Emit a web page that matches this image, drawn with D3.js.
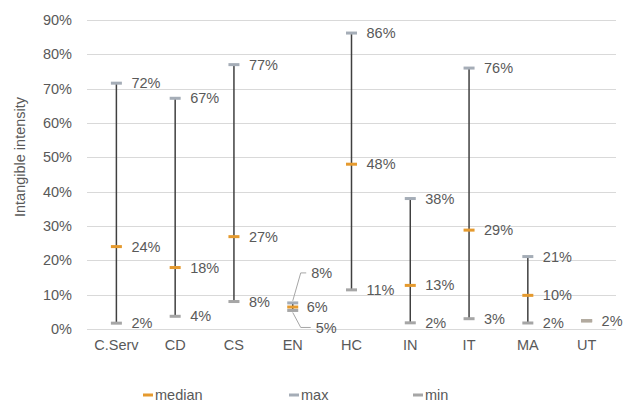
<!DOCTYPE html>
<html>
<head>
<meta charset="utf-8">
<script src="https://cdn.jsdelivr.net/npm/d3@7"></script>
<style>
  html, body { margin: 0; padding: 0; background: #fff; }
  svg { display: block; font-family: "Liberation Sans", Arial, sans-serif; }
</style>
</head>
<body>
<svg id="chart" width="624" height="403"></svg>
<script>
// ---- data ----
const categories = ["C.Serv", "CD", "CS", "EN", "HC", "IN", "IT", "MA", "UT"];
const maxValues    = [0.716, 0.672, 0.770, 0.076, 0.862, 0.380, 0.760, 0.211, 0.024];
const medianValues = [0.240, 0.179, 0.269, 0.064, 0.480, 0.127, 0.288, 0.098, 0.024];
const minValues    = [0.017, 0.037, 0.080, 0.054, 0.114, 0.018, 0.030, 0.0175, 0.024];
const yTicks = [0, 0.1, 0.2, 0.3, 0.4, 0.5, 0.6, 0.7, 0.8, 0.9];
const seriesNames = ["median", "max", "min"];
const yTitle = "Intangible intensity";

// ---- layout ----
const W = 624, H = 403;
const plot = { left: 87, right: 616, top: 20, bottom: 329 };
const colors = { median: "#E59A2E", max: "#A5ADB7", min: "#A6A6A6", ut: "#B2AA9F" };
const textColor = "#595959";
const fontSize = 14.5;

const svg = d3.select("#chart");
const x = d3.scaleBand().domain(categories).range([plot.left, plot.right]).padding(0);
const y = d3.scaleLinear().domain([0, 0.9]).range([plot.bottom, plot.top]);
const fmt = d3.format(".0%");

// gridlines
svg.append("g")
  .selectAll("line").data(yTicks).join("line")
  .attr("x1", plot.left).attr("x2", plot.right)
  .attr("y1", d => Math.round(y(d)) + 0.5).attr("y2", d => Math.round(y(d)) + 0.5)
  .attr("stroke", "#D9D9D9").attr("stroke-width", 1);

// y axis
const yAxis = d3.axisLeft(y).tickValues(yTicks).tickFormat(fmt).tickSize(0).tickPadding(15);
const yg = svg.append("g").attr("transform", `translate(${plot.left},0)`).call(yAxis);
yg.select(".domain").remove();
yg.selectAll("text").attr("fill", textColor).attr("font-size", fontSize)
  .attr("font-family", "Liberation Sans, Arial, sans-serif");

// x axis
const xAxis = d3.axisBottom(x).tickSize(0).tickPadding(11);
const xg = svg.append("g").attr("transform", `translate(0,${plot.bottom})`).call(xAxis);
xg.select(".domain").remove();
xg.selectAll("text").attr("fill", textColor).attr("font-size", fontSize)
  .attr("font-family", "Liberation Sans, Arial, sans-serif");

// y title
svg.append("text")
  .attr("transform", `translate(25,157) rotate(-90)`)
  .attr("text-anchor", "middle")
  .attr("fill", textColor).attr("font-size", fontSize)
  .text(yTitle);

const rows = categories.map((c, i) => ({
  cat: c, max: maxValues[i], median: medianValues[i], min: minValues[i]
}));
const cx = d => x(d.cat) + x.bandwidth() / 2;

// high-low lines
svg.append("g").selectAll("line").data(rows.filter(d => d.max > d.min)).join("line")
  .attr("x1", cx).attr("x2", cx)
  .attr("y1", d => y(d.max)).attr("y2", d => y(d.min))
  .attr("stroke", "#404040").attr("stroke-width", 1.5);

// markers
const markW = 11, markH = 3;
function markers(key, color) {
  svg.append("g").selectAll("rect").data(rows).join("rect")
    .attr("x", d => cx(d) - markW / 2)
    .attr("y", d => y(d[key]) - markH / 2)
    .attr("width", markW).attr("height", markH)
    .attr("fill", d => (d.max === d.min ? colors.ut : color));
}
markers("median", colors.median);
markers("max", colors.max);
markers("min", colors.min);

// data labels
const labelDx = 15;
// special label placement for the crowded EN cluster (with leader lines)
const special = {
  EN: {
    max: { dx: 18.5, dy: -30, leader: true },
    median: { dx: 14, dy: 0, leader: false },
    min: { dx: 23, dy: 17, leader: true }
  }
};
const lblG = svg.append("g");
rows.forEach(d => {
  const keys = d.max === d.min ? ["min"] : ["max", "median", "min"];
  keys.forEach(k => {
    const px = cx(d), py = y(d[k]);
    const sp = special[d.cat] && special[d.cat][k];
    const dx = sp ? sp.dx : labelDx;
    const dy = sp ? sp.dy : 0;
    if (sp && sp.leader) {
      const tx = px + dx - 5, ty = py + dy;
      lblG.append("path")
        .attr("d", `M${tx},${ty} L${px + 8},${ty} L${px},${py + (dy < 0 ? -2 : 2)}`)
        .attr("fill", "none").attr("stroke", "#A6A6A6").attr("stroke-width", 1);
    }
    lblG.append("text")
      .attr("x", px + dx).attr("y", py + dy)
      .attr("dy", "0.35em")
      .attr("fill", textColor).attr("font-size", fontSize)
      .text(fmt(d[k]));
  });
});

// legend
const legendItems = [
  { name: seriesNames[0], color: colors.median, x: 143 },
  { name: seriesNames[1], color: colors.max, x: 289 },
  { name: seriesNames[2], color: colors.min, x: 413 }
];
const legY = 395;
const lg = svg.append("g");
legendItems.forEach(it => {
  lg.append("rect").attr("x", it.x).attr("y", legY - 1.5).attr("width", 10).attr("height", 3).attr("fill", it.color);
  lg.append("text").attr("x", it.x + 12).attr("y", legY).attr("dy", "0.35em")
    .attr("fill", textColor).attr("font-size", fontSize).text(it.name);
});
</script>
</body>
</html>
